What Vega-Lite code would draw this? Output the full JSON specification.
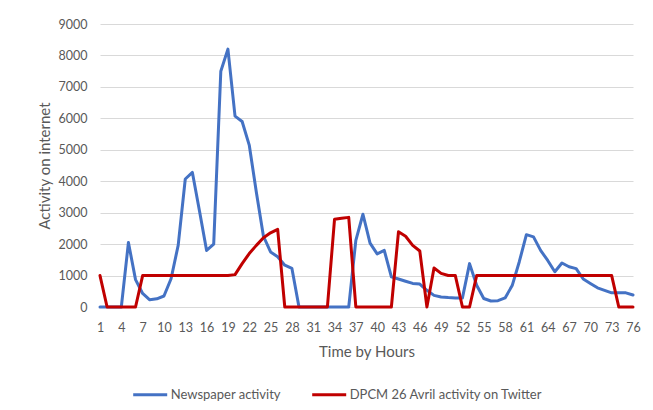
{
  "$schema": "https://vega.github.io/schema/vega-lite/v6.json",
  "width": 533,
  "height": 283,
  "autosize": "none",
  "padding": {"left": 100, "top": 24, "right": 20, "bottom": 103},
  "background": "white",
  "config": {"view": {"stroke": null}, "font": "Lato"},
  "data": {"values": [
    {"hour": 1, "news": 0, "tw": 1000},
    {"hour": 2, "news": 0, "tw": 0},
    {"hour": 3, "news": 0, "tw": 0},
    {"hour": 4, "news": 0, "tw": 0},
    {"hour": 5, "news": 2050, "tw": 0},
    {"hour": 6, "news": 870, "tw": 0},
    {"hour": 7, "news": 430, "tw": 1000},
    {"hour": 8, "news": 230, "tw": 1000},
    {"hour": 9, "news": 260, "tw": 1000},
    {"hour": 10, "news": 350, "tw": 1000},
    {"hour": 11, "news": 900, "tw": 1000},
    {"hour": 12, "news": 1960, "tw": 1000},
    {"hour": 13, "news": 4070, "tw": 1000},
    {"hour": 14, "news": 4280, "tw": 1000},
    {"hour": 15, "news": 3050, "tw": 1000},
    {"hour": 16, "news": 1800, "tw": 1000},
    {"hour": 17, "news": 2000, "tw": 1000},
    {"hour": 18, "news": 7500, "tw": 1000},
    {"hour": 19, "news": 8200, "tw": 1000},
    {"hour": 20, "news": 6070, "tw": 1030},
    {"hour": 21, "news": 5900, "tw": 1380},
    {"hour": 22, "news": 5150, "tw": 1700},
    {"hour": 23, "news": 3650, "tw": 1960},
    {"hour": 24, "news": 2250, "tw": 2200},
    {"hour": 25, "news": 1750, "tw": 2360},
    {"hour": 26, "news": 1600, "tw": 2470},
    {"hour": 27, "news": 1330, "tw": 0},
    {"hour": 28, "news": 1230, "tw": 0},
    {"hour": 29, "news": 0, "tw": 0},
    {"hour": 30, "news": 0, "tw": 0},
    {"hour": 31, "news": 0, "tw": 0},
    {"hour": 32, "news": 0, "tw": 0},
    {"hour": 33, "news": 0, "tw": 0},
    {"hour": 34, "news": 0, "tw": 2790},
    {"hour": 35, "news": 0, "tw": 2820},
    {"hour": 36, "news": 0, "tw": 2850},
    {"hour": 37, "news": 2120, "tw": 0},
    {"hour": 38, "news": 2950, "tw": 0},
    {"hour": 39, "news": 2030, "tw": 0},
    {"hour": 40, "news": 1690, "tw": 0},
    {"hour": 41, "news": 1800, "tw": 0},
    {"hour": 42, "news": 960, "tw": 0},
    {"hour": 43, "news": 890, "tw": 2390},
    {"hour": 44, "news": 820, "tw": 2250},
    {"hour": 45, "news": 750, "tw": 1960},
    {"hour": 46, "news": 730, "tw": 1780},
    {"hour": 47, "news": 530, "tw": 0},
    {"hour": 48, "news": 370, "tw": 1240},
    {"hour": 49, "news": 320, "tw": 1070},
    {"hour": 50, "news": 300, "tw": 1000},
    {"hour": 51, "news": 290, "tw": 1000},
    {"hour": 52, "news": 290, "tw": 0},
    {"hour": 53, "news": 1380, "tw": 0},
    {"hour": 54, "news": 690, "tw": 1000},
    {"hour": 55, "news": 270, "tw": 1000},
    {"hour": 56, "news": 190, "tw": 1000},
    {"hour": 57, "news": 200, "tw": 1000},
    {"hour": 58, "news": 290, "tw": 1000},
    {"hour": 59, "news": 680, "tw": 1000},
    {"hour": 60, "news": 1440, "tw": 1000},
    {"hour": 61, "news": 2300, "tw": 1000},
    {"hour": 62, "news": 2230, "tw": 1000},
    {"hour": 63, "news": 1800, "tw": 1000},
    {"hour": 64, "news": 1480, "tw": 1000},
    {"hour": 65, "news": 1120, "tw": 1000},
    {"hour": 66, "news": 1400, "tw": 1000},
    {"hour": 67, "news": 1280, "tw": 1000},
    {"hour": 68, "news": 1220, "tw": 1000},
    {"hour": 69, "news": 890, "tw": 1000},
    {"hour": 70, "news": 750, "tw": 1000},
    {"hour": 71, "news": 610, "tw": 1000},
    {"hour": 72, "news": 530, "tw": 1000},
    {"hour": 73, "news": 450, "tw": 1000},
    {"hour": 74, "news": 450, "tw": 0},
    {"hour": 75, "news": 450, "tw": 0},
    {"hour": 76, "news": 380, "tw": 0}
  ]},
  "transform": [
    {"fold": ["news", "tw"], "as": ["key", "value"]},
    {"lookup": "key", "from": {"data": {"values": [
      {"key": "news", "series": "Newspaper activity"},
      {"key": "tw", "series": "DPCM 26 Avril activity on Twitter"}
    ]}, "key": "key", "fields": ["series"]}}
  ],
  "mark": {"type": "line", "strokeWidth": 3, "strokeJoin": "round", "strokeCap": "round"},
  "encoding": {
    "x": {
      "field": "hour", "type": "quantitative",
      "scale": {"domain": [1, 76], "nice": false, "zero": false},
      "axis": {
        "values": [1, 4, 7, 10, 13, 16, 19, 22, 25, 28, 31, 34, 37, 40, 43, 46, 49, 52, 55, 58, 61, 64, 67, 70, 73, 76],
        "title": "Time by Hours", "grid": false, "ticks": false, "domain": false,
        "labelPadding": 14, "labelFontSize": 12.5, "labelColor": "#595959", "labelFlush": false, "labelOverlap": false,
        "titleFontSize": 15, "titleFontWeight": "normal", "titleColor": "#595959",
        "titleY": 44, "titleBaseline": "middle"
      }
    },
    "y": {
      "field": "value", "type": "quantitative",
      "scale": {"domain": [0, 9000], "nice": false},
      "axis": {
        "values": [0, 1000, 2000, 3000, 4000, 5000, 6000, 7000, 8000, 9000],
        "format": "d",
        "title": "Activity on internet", "grid": true, "gridColor": "#D9D9D9", "gridWidth": 1,
        "ticks": false, "domain": false,
        "labelPadding": 13, "labelFontSize": 12.5, "labelColor": "#595959",
        "titleFontSize": 15, "titleFontWeight": "normal", "titleColor": "#595959",
        "titleX": -56, "titleBaseline": "middle"
      }
    },
    "color": {
      "field": "series", "type": "nominal",
      "scale": {"domain": ["Newspaper activity", "DPCM 26 Avril activity on Twitter"], "range": ["#4472C4", "#C00000"]},
      "legend": {
        "orient": "none", "legendX": 31.7, "legendY": 352, "direction": "horizontal", "title": null,
        "symbolType": "stroke", "symbolSize": 1156, "symbolStrokeWidth": 3,
        "labelFontSize": 13, "labelColor": "#595959", "labelOffset": 2, "labelLimit": 400,
        "columnPadding": 24, "padding": 0
      }
    }
  }
}
